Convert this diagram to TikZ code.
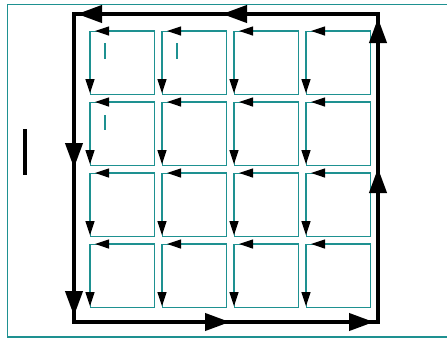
\documentclass[tikz,border=0pt]{standalone}
\usetikzlibrary{arrows.meta}
\definecolor{tealc}{RGB}{30,145,145}
\tikzset{
  big/.style={line width=4pt, black, -{Triangle[length=25pt,width=17pt]}},
  bigline/.style={line width=4pt, black},
  cell/.style={draw=tealc, line width=1.2pt, minimum width=64pt, minimum height=63pt, inner sep=0pt, anchor=north west},
  sarr/.style={tealc, line width=1.2pt, -{Triangle[length=14pt,width=9pt,color=black]}},
  tickline/.style={tealc, line width=1.2pt},
  frameline/.style={tealc, line width=1.2pt}
}
\begin{document}
\begin{tikzpicture}[x=1pt,y=-1pt]
\useasboundingbox (0,0) rectangle (447,338);
% frame
\coordinate (f1) at (447,4.5);
\coordinate (f2) at (7.5,4.5);
\coordinate (f3) at (7.5,337);
\coordinate (f4) at (447,337);
\draw[frameline] (f1) -- (f2) -- (f3) -- (f4);
% small cells
\foreach \c/\x in {1/90,2/162,3/234,4/306}{
  \foreach \r/\y in {1/31,2/102,3/173,4/244}{
    \node[cell] (s\r\c) at (\x,\y) {};
    \draw[sarr] (s\r\c.north east) -- ([xshift=5pt]s\r\c.north west);
    \draw[sarr] (s\r\c.north west) -- ([yshift=2pt]s\r\c.south west);
  }
}
% small ticks
\coordinate (m1a) at (105,43); \coordinate (m1b) at (105,59);
\coordinate (m2a) at (177,43); \coordinate (m2b) at (177,59);
\coordinate (m3a) at (105,115); \coordinate (m3b) at (105,130);
\draw[tickline] (m1a) -- (m1b);
\draw[tickline] (m2a) -- (m2b);
\draw[tickline] (m3a) -- (m3b);
\coordinate (bara) at (24.5,129); \coordinate (barb) at (24.5,175);
\draw[bigline] (bara) -- (barb);
% big loop
\coordinate (TL) at (74,14);
\coordinate (TR) at (378,14);
\coordinate (BR) at (378,322);
\coordinate (BL) at (74,322);
\coordinate (MT) at (222,14);
\coordinate (ML) at (74,168);
\coordinate (MB) at (230,322);
\coordinate (MR) at (378,168);
\draw[bigline] (TR) -- (TL) -- (BL) -- (BR) -- cycle;
\draw[big] (TR) -- (MT);
\draw[big] (MT) -- ([xshift=3pt]TL);
\draw[big] (TL) -- (ML);
\draw[big] (ML) -- ([yshift=6pt]BL);
\draw[big] (BL) -- (MB);
\draw[big] (MB) -- ([xshift=-4pt]BR);
\draw[big] (BR) -- (MR);
\draw[big] (MR) -- ([yshift=-4pt]TR);
\end{tikzpicture}
\end{document}
